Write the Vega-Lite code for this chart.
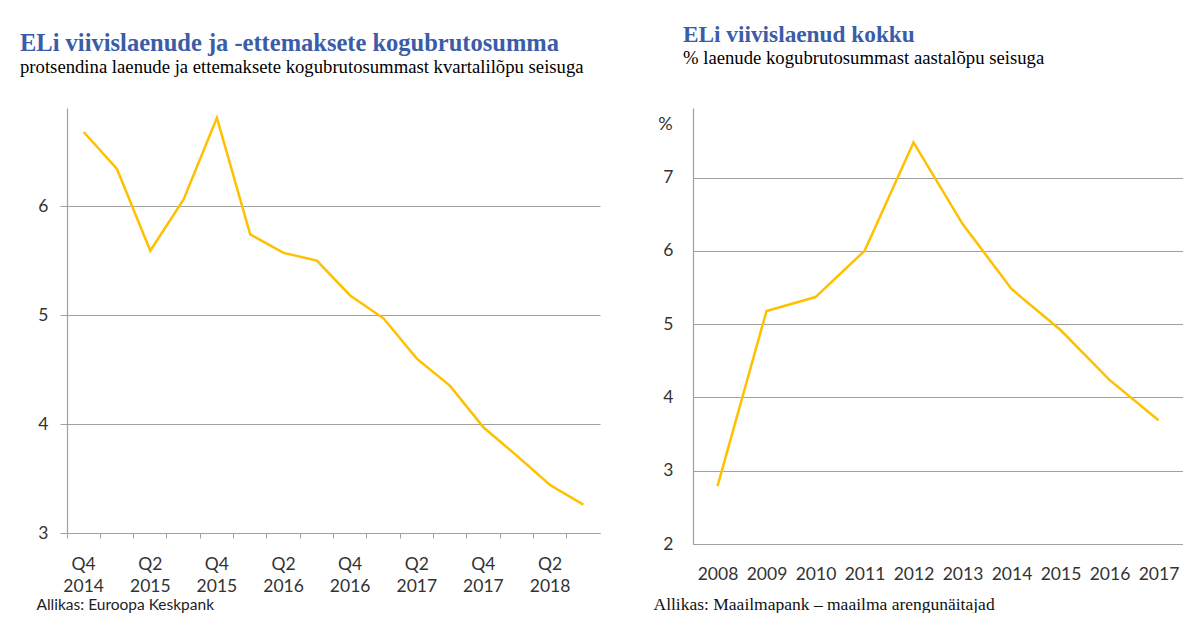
{
  "$schema": "https://vega.github.io/schema/vega-lite/v6.json",
  "padding": {"left": 20, "top": 23, "right": 0, "bottom": 0},
  "background": "white",
  "bounds": "flush",
  "spacing": 93,
  "config": {
    "view": {"stroke": null},
    "axis": {"labelFont": "Lato", "labelFontSize": 17.5, "labelColor": "#333333", "gridColor": "#A0A0A0", "domainColor": "#A0A0A0", "tickColor": "#A0A0A0", "domainWidth": 1.2, "gridWidth": 1.2}
  },
  "datasets": {
    "quarterly": [
      {"quarter": "Q4 2014", "value": 6.68},
      {"quarter": "Q1 2015", "value": 6.34},
      {"quarter": "Q2 2015", "value": 5.59},
      {"quarter": "Q3 2015", "value": 6.06},
      {"quarter": "Q4 2015", "value": 6.81},
      {"quarter": "Q1 2016", "value": 5.74},
      {"quarter": "Q2 2016", "value": 5.57},
      {"quarter": "Q3 2016", "value": 5.50},
      {"quarter": "Q4 2016", "value": 5.18},
      {"quarter": "Q1 2017", "value": 4.97},
      {"quarter": "Q2 2017", "value": 4.60},
      {"quarter": "Q3 2017", "value": 4.35},
      {"quarter": "Q4 2017", "value": 3.97},
      {"quarter": "Q1 2018", "value": 3.71},
      {"quarter": "Q2 2018", "value": 3.44},
      {"quarter": "Q3 2018", "value": 3.26}
    ],
    "annual": [
      {"year": "2008", "value": 2.79},
      {"year": "2009", "value": 5.18},
      {"year": "2010", "value": 5.37},
      {"year": "2011", "value": 6.0},
      {"year": "2012", "value": 7.48},
      {"year": "2013", "value": 6.37},
      {"year": "2014", "value": 5.48},
      {"year": "2015", "value": 4.92},
      {"year": "2016", "value": 4.24},
      {"year": "2017", "value": 3.69}
    ]
  },
  "hconcat": [
    {
      "width": 533,
      "height": 425,
      "data": {"name": "quarterly"},
      "title": {
        "text": "ELi viivislaenude ja -ettemaksete kogubrutosumma",
        "subtitle": "protsendina laenude ja ettemaksete kogubrutosummast kvartalilõpu seisuga",
        "anchor": "start", "frame": "group", "dx": -47, "offset": 30,
        "font": "Liberation Serif", "fontSize": 24.5, "fontWeight": "bold", "color": "#3B5CA8",
        "subtitleFont": "Liberation Serif", "subtitleFontSize": 18.7, "subtitleColor": "#000000", "subtitlePadding": 2
      },
      "layer": [
        {
          "mark": {"type": "line", "color": "#FFC000", "strokeWidth": 2.5},
          "encoding": {
            "x": {"field": "quarter", "type": "ordinal", "sort": null, "bandPosition": 0.5,
              "scale": {"type": "band", "paddingInner": 0, "paddingOuter": 0},
              "axis": {"orient": "bottom", "labels": false, "ticks": true, "tickSize": 5, "bandPosition": 0, "title": null, "grid": false}},
            "y": {"field": "value", "type": "quantitative",
              "scale": {"domain": [3, 6.9], "nice": false, "zero": false},
              "axis": {"values": [3, 4, 5, 6], "format": "d", "grid": true, "tickSize": 7, "labelPadding": 12, "title": null, "domain": true}}
          }
        },
        {
          "mark": {"type": "line", "strokeOpacity": 0},
          "encoding": {
            "x": {"field": "quarter", "type": "ordinal", "sort": null, "bandPosition": 0.5,
              "scale": {"type": "band", "paddingInner": 0, "paddingOuter": 0},
              "axis": {"orient": "bottom", "ticks": false, "domain": false, "tickSize": 0, "grid": false,
                "labelPadding": 22, "labelAngle": 0, "labelOverlap": false, "labelLineHeight": 22,
                "labelExpr": "test(/Q[13]/, datum.value) ? '' : split(datum.value, ' ')",
                "title": "Allikas: Euroopa Keskpank", "titleX": -31, "titleY": 76, "titleAlign": "left", "titleBaseline": "alphabetic",
                "titleFont": "Lato", "titleFontSize": 15.5, "titleFontWeight": "normal", "titleColor": "#222222"}},
            "y": {"field": "value", "type": "quantitative"}
          }
        }
      ],
      "resolve": {"axis": {"x": "independent"}}
    },
    {
      "width": 490,
      "height": 436,
      "data": {"name": "annual"},
      "title": {
        "text": "ELi viivislaenud  kokku",
        "subtitle": "% laenude kogubrutosummast aastalõpu seisuga",
        "anchor": "start", "frame": "group", "dx": -10, "offset": 39,
        "font": "Liberation Serif", "fontSize": 23.3, "fontWeight": "bold", "color": "#3B5CA8",
        "subtitleFont": "Liberation Serif", "subtitleFontSize": 18.7, "subtitleColor": "#000000", "subtitlePadding": 2
      },
      "mark": {"type": "line", "color": "#FFC000", "strokeWidth": 2.5},
      "encoding": {
        "x": {"field": "year", "type": "ordinal",
          "axis": {"ticks": false, "tickSize": 0, "labelPadding": 21, "labelAngle": 0, "grid": false,
            "title": "Allikas: Maailmapank – maailma arengunäitajad", "titleX": -40, "titleY": 65, "titleAlign": "left", "titleBaseline": "alphabetic",
            "titleFont": "Liberation Serif", "titleFontSize": 17.5, "titleFontWeight": "normal", "titleColor": "#111111"}},
        "y": {"field": "value", "type": "quantitative",
          "scale": {"domain": [2, 7.95], "nice": false, "zero": false},
          "axis": {"values": [2, 3, 4, 5, 6, 7], "grid": true, "ticks": false, "tickSize": 0, "labelPadding": 20,
            "title": "%", "titleAngle": 0, "titleX": -28, "titleY": 21, "titleAlign": "center", "titleBaseline": "alphabetic",
            "titleFont": "Lato", "titleFontSize": 18, "titleFontWeight": "normal", "titleColor": "#333333"}}
      }
    }
  ]
}
